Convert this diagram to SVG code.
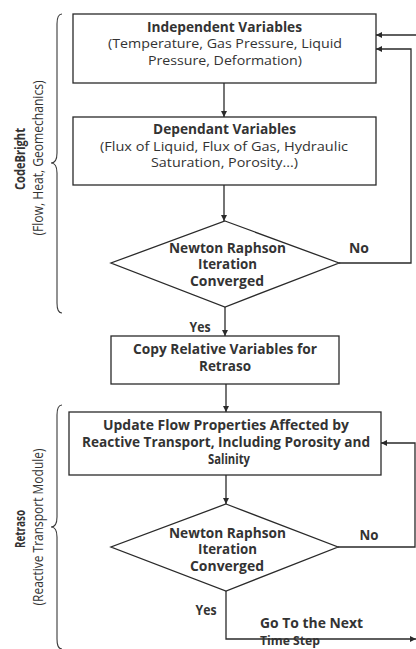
<svg xmlns="http://www.w3.org/2000/svg" width="416" height="649" viewBox="0 0 416 649">
<style>
.box{fill:#fff;stroke:#2a2a2a;stroke-width:1.3}
.ln{fill:none;stroke:#2a2a2a;stroke-width:1.3}
.br{fill:none;stroke:#3a3a3a;stroke-width:1.1}
text{font-family:"Open Sans","Liberation Sans",sans-serif;font-size:13.5px;fill:#333}
.b{font-weight:bold}
.c{text-anchor:middle}
.r{font-size:14px}
.s{font-size:12.5px}
</style>
<defs>
<marker id="ah" viewBox="0 0 10 10" refX="10" refY="5" markerWidth="6" markerHeight="6" markerUnits="userSpaceOnUse" orient="auto">
<path d="M0,0 L10,5 L0,10 z" fill="#2a2a2a"/>
</marker>
</defs>
<rect width="416" height="649" fill="#fff"/>

<g id="connectors">
<line class="ln" x1="224" y1="83" x2="224" y2="117" marker-end="url(#ah)"/>
<line class="ln" x1="224" y1="185" x2="224" y2="221" marker-end="url(#ah)"/>
<polyline class="ln" points="339,263 411,263 411,49 376,49" marker-end="url(#ah)"/>
<line class="ln" x1="416" y1="35" x2="376" y2="35" marker-end="url(#ah)"/>
<line class="ln" x1="225" y1="307" x2="225" y2="336" marker-end="url(#ah)"/>
<line class="ln" x1="226" y1="384" x2="226" y2="412" marker-end="url(#ah)"/>
<line class="ln" x1="226" y1="475" x2="226" y2="504" marker-end="url(#ah)"/>
<polyline class="ln" points="338,547 415,547 415,443 381,443" marker-end="url(#ah)"/>
<polyline class="ln" points="226,591 226,639 416,639" marker-end="url(#ah)"/>
<text class="b c" x="359" y="253" textLength="20" lengthAdjust="spacingAndGlyphs">No</text>
<text class="b c" x="200" y="332" textLength="21" lengthAdjust="spacingAndGlyphs">Yes</text>
<text class="b c" x="369" y="540" textLength="19" lengthAdjust="spacingAndGlyphs">No</text>
<text class="b c" x="206" y="615" textLength="21" lengthAdjust="spacingAndGlyphs">Yes</text>
<text class="b" x="260" y="628" textLength="103" lengthAdjust="spacingAndGlyphs">Go To the Next</text>
<text class="b s" x="260" y="645" textLength="60" lengthAdjust="spacingAndGlyphs">Time Step</text>
</g>

<g id="independent">
<rect class="box" x="73" y="14" width="303" height="69"/>
<text class="b c" x="224.5" y="31.5" textLength="155" lengthAdjust="spacingAndGlyphs">Independent Variables</text>
<text class="c" x="225" y="48" textLength="234" lengthAdjust="spacingAndGlyphs">(Temperature, Gas Pressure, Liquid</text>
<text class="c" x="225" y="64.5" textLength="154" lengthAdjust="spacingAndGlyphs">Pressure, Deformation)</text>
</g>

<g id="dependant">
<rect class="box" x="73" y="117" width="303" height="68"/>
<text class="b c" x="224.5" y="134" textLength="143" lengthAdjust="spacingAndGlyphs">Dependant Variables</text>
<text class="c" x="224" y="150.5" textLength="248" lengthAdjust="spacingAndGlyphs">(Flux of Liquid, Flux of Gas, Hydraulic</text>
<text class="c" x="224.5" y="167" textLength="147" lengthAdjust="spacingAndGlyphs">Saturation, Porosity...)</text>
</g>

<g id="decision1">
<polygon class="box" points="225,221 339,263 225,307 111,263"/>
<text class="b c" x="227.5" y="252.5" textLength="117" lengthAdjust="spacingAndGlyphs">Newton Raphson</text>
<text class="b c" x="227.5" y="269" textLength="59" lengthAdjust="spacingAndGlyphs">Iteration</text>
<text class="b c" x="227" y="285.5" textLength="74" lengthAdjust="spacingAndGlyphs">Converged</text>
</g>

<g id="copy">
<rect class="box" x="111" y="336" width="228" height="48"/>
<text class="b c" x="225" y="353.5" textLength="184" lengthAdjust="spacingAndGlyphs">Copy Relative Variables for</text>
<text class="b c" x="225" y="370.5" textLength="52" lengthAdjust="spacingAndGlyphs">Retraso</text>
</g>

<g id="update">
<rect class="box" x="69" y="412" width="312" height="63"/>
<text class="b c" x="226" y="429.5" textLength="246" lengthAdjust="spacingAndGlyphs">Update Flow Properties Affected by</text>
<text class="b c" x="226" y="446.5" textLength="288" lengthAdjust="spacingAndGlyphs">Reactive Transport, Including Porosity and</text>
<text class="b c" x="229" y="463.5" textLength="42" lengthAdjust="spacingAndGlyphs">Salinity</text>
</g>

<g id="decision2">
<polygon class="box" points="226,504 338,547 226,591 111,547"/>
<text class="b c" x="227.5" y="537.5" textLength="117" lengthAdjust="spacingAndGlyphs">Newton Raphson</text>
<text class="b c" x="227.5" y="554" textLength="59" lengthAdjust="spacingAndGlyphs">Iteration</text>
<text class="b c" x="227" y="570.5" textLength="74" lengthAdjust="spacingAndGlyphs">Converged</text>
</g>

<g id="codebright">
<path class="br" d="M62,14 Q57,14 57,24 L57,153 Q57,163 51,163 Q57,163 57,173 L57,303 Q57,313 62,313"/>
<text class="b c r" transform="translate(25,159) rotate(-90)" textLength="62" lengthAdjust="spacingAndGlyphs">CodeBright</text>
<text class="c r" transform="translate(43,158) rotate(-90)" textLength="155" lengthAdjust="spacingAndGlyphs">(Flow, Heat, Geomechanics)</text>
</g>

<g id="retraso">
<path class="br" d="M62,405 Q57,405 57,415 L57,517 Q57,527 51,527 Q57,527 57,537 L57,639 Q57,649 62,649"/>
<text class="b c r" transform="translate(25,529) rotate(-90)" textLength="38" lengthAdjust="spacingAndGlyphs">Retraso</text>
<text class="c r" transform="translate(43,527) rotate(-90)" textLength="157" lengthAdjust="spacingAndGlyphs">(Reactive Transport Module)</text>
</g>
</svg>
